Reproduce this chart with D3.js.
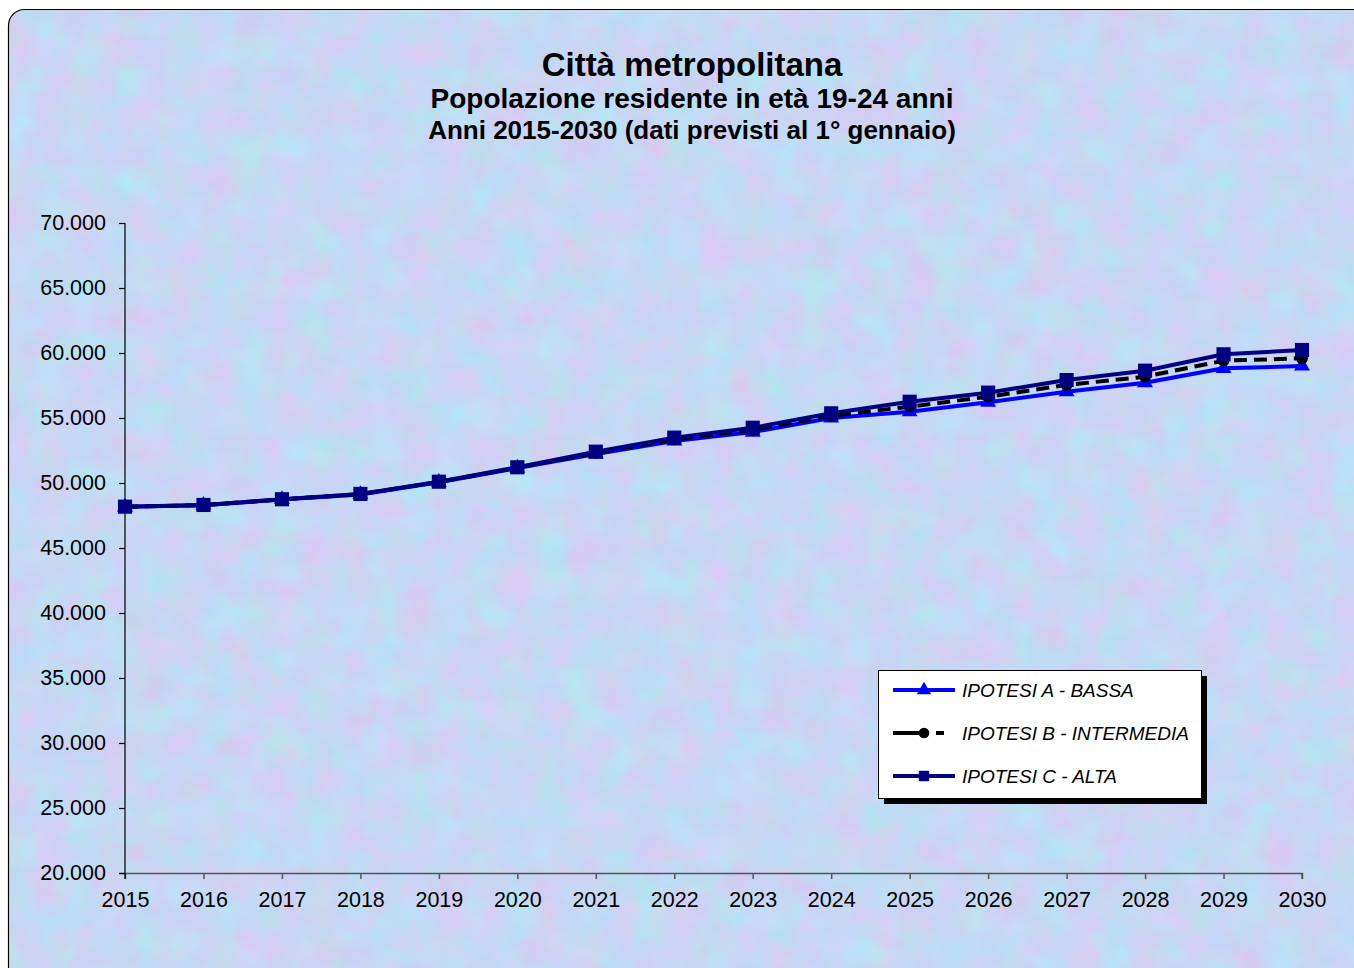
<!DOCTYPE html>
<html><head><meta charset="utf-8">
<script src="https://cdn.jsdelivr.net/npm/d3@7"></script>
<style>html,body{margin:0;padding:0;background:#fff;overflow:hidden}svg{display:block}</style>
</head><body>
<script>
const years = [2015,2016,2017,2018,2019,2020,2021,2022,2023,2024,2025,2026,2027,2028,2029,2030];
const ipotesiA = [48170,48290,48730,49120,50060,51150,52230,53230,53920,55000,55480,56210,57020,57710,58820,59000];
const ipotesiB = [48175,48300,48740,49140,50080,51180,52320,53360,54090,55180,55870,56640,57540,58180,59410,59590];
const ipotesiC = [48180,48310,48750,49160,50100,51210,52410,53490,54250,55360,56250,56950,57920,58640,59900,60230];
const seriesNames = ["IPOTESI A - BASSA","IPOTESI B - INTERMEDIA","IPOTESI C - ALTA"];
const yTicks = [20000,25000,30000,35000,40000,45000,50000,55000,60000,65000,70000];
const titles = ["Città metropolitana","Popolazione residente in età 19-24 anni","Anni 2015-2030 (dati previsti al 1° gennaio)"];

const W=1354,H=968;
const svg=d3.select("body").append("svg").attr("width",W).attr("height",H);
const defs=svg.append("defs");
const f=defs.append("filter").attr("id","tex").attr("x",0).attr("y",0).attr("width","100%").attr("height","100%")
 .attr("color-interpolation-filters","sRGB");
f.append("feTurbulence").attr("type","fractalNoise").attr("baseFrequency","0.03").attr("numOctaves",4).attr("seed",3).attr("result","n");
f.append("feColorMatrix").attr("in","n").attr("type","matrix")
 .attr("values","0.22 0 0 0 0.67  -0.14 0.06 0 0 0.885  0 0 0.08 0 0.915  0 0 0 0 1");
const clip=defs.append("clipPath").attr("id","bg");
clip.append("rect").attr("x",8.5).attr("y",9.5).attr("width",1400).attr("height",1000).attr("rx",16);
svg.append("rect").attr("width",W).attr("height",H).attr("fill","#fff");
svg.append("rect").attr("x",8.5).attr("y",9.5).attr("width",1400).attr("height",1000).attr("rx",16)
 .attr("filter","url(#tex)").attr("clip-path","url(#bg)");
svg.append("rect").attr("x",8.5).attr("y",9.5).attr("width",1400).attr("height",1000).attr("rx",16)
 .attr("fill","none").attr("stroke","#000").attr("stroke-width",1.2);

const font="'Liberation Sans',Arial,sans-serif";
const tSizes=[33,28,26], tBase=[76,108,139];
titles.forEach((t,i)=>svg.append("text").attr("x",692).attr("y",tBase[i]).attr("text-anchor","middle")
 .attr("font-family",font).attr("font-weight","bold").attr("font-size",tSizes[i]).attr("fill","#000").text(t));

const x=d3.scaleLinear().domain([2015,2030]).range([125,1302]);
const y=d3.scaleLinear().domain([20000,70000]).range([873,223]);
const it=d3.formatLocale({decimal:",",thousands:".",grouping:[3],currency:["","€"]});
const fmt=it.format(",.0f");

const gx=svg.append("g").attr("transform","translate(0,873)")
 .call(d3.axisBottom(x).tickValues(years).tickFormat(d3.format("d")).tickSize(6).tickPadding(12.5));
gx.selectAll("path,line").attr("stroke","#555").attr("stroke-width",1.5);
gx.selectAll("text").attr("font-family",font).attr("font-size",21.5).attr("fill","#000");
gx.select("path").attr("d","M119,0.5H1302V6");
const gy=svg.append("g").attr("transform","translate(125,0)")
 .call(d3.axisLeft(y).tickValues(yTicks).tickFormat(fmt).tickSize(6).tickPadding(13));
gy.selectAll("path,line").attr("stroke","#000").attr("stroke-width",1.2);
gy.select("path").attr("d","M-6,223.5H0V879");
gy.selectAll("text").attr("font-family",font).attr("font-size",21.5).attr("fill","#000");

const data=[ipotesiA,ipotesiB,ipotesiC];
const colors=["#0000ff","#000000","#000080"];
const dashes=[null,"13,7",null];
const line=d3.line().x((d,i)=>x(years[i])).y(d=>y(d));
const tri=d3.symbol().type(d3.symbolTriangle).size(110);
const circ=d3.symbol().type(d3.symbolCircle).size(110);
const sq=d3.symbol().type(d3.symbolSquare).size(200);
const syms=[tri,circ,sq];
data.forEach((s,k)=>{
  const g=svg.append("g");
  g.append("path").attr("d",line(s)).attr("fill","none").attr("stroke",colors[k]).attr("stroke-width",4)
   .attr("stroke-dasharray",dashes[k]).attr("stroke-linejoin","round");
  g.selectAll("path.m").data(s).join("path").attr("class","m")
   .attr("transform",(d,i)=>`translate(${x(years[i])},${y(d)})`).attr("d",syms[k]()).attr("fill",colors[k]);
});

// legend
const lg=svg.append("g");
lg.append("rect").attr("x",884).attr("y",676).attr("width",323).attr("height",128).attr("fill","#000");
lg.append("rect").attr("x",878.5).attr("y",670.5).attr("width",323).attr("height",128).attr("fill","#fff").attr("stroke","#000").attr("stroke-width",1);
const rows=[690,733,776];
seriesNames.forEach((n,k)=>{
  lg.append("line").attr("x1",893).attr("x2",955).attr("y1",rows[k]).attr("y2",rows[k]).attr("stroke",colors[k]).attr("stroke-width",4)
   .attr("stroke-dasharray",k===1?"33,10,8,20":null);
  lg.append("path").attr("transform",`translate(924,${rows[k]})`).attr("d",[d3.symbol().type(d3.symbolTriangle).size(90),d3.symbol().type(d3.symbolCircle).size(90),d3.symbol().type(d3.symbolSquare).size(110)][k]()).attr("fill",colors[k]);
  lg.append("text").attr("x",962).attr("y",rows[k]+7).attr("font-family",font).attr("font-style","italic").attr("font-size",19).attr("fill","#000").text(n);
});
</script>
</body></html>
